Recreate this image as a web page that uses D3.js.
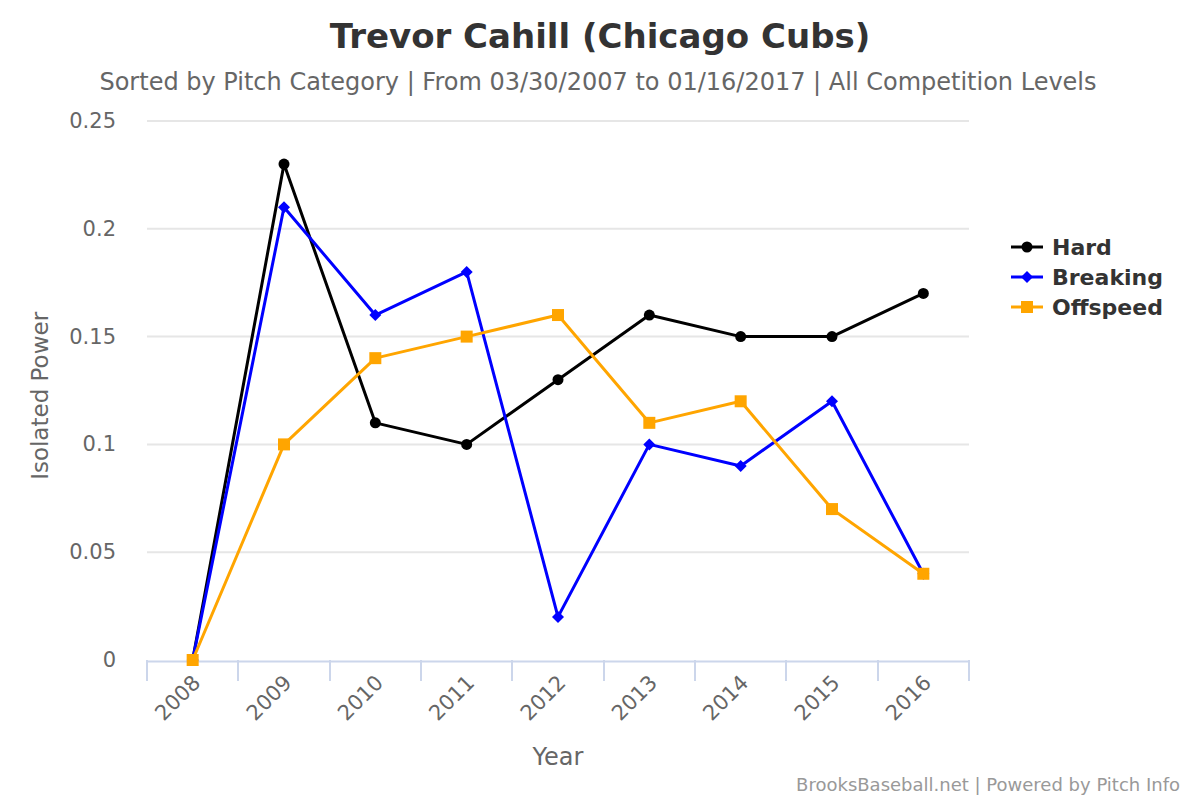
<!DOCTYPE html>
<html>
<head>
<meta charset="utf-8">
<script src="https://cdnjs.cloudflare.com/ajax/libs/d3/7.8.5/d3.min.js"></script>
<style>
  body { margin: 0; background: #fff; }
  text { font-family: "DejaVu Sans", sans-serif; }
</style>
</head>
<body>
<div id="chart"></div>
<script>
const years = ["2008", "2009", "2010", "2011", "2012", "2013", "2014", "2015", "2016"];
const hard = [0, 0.23, 0.11, 0.10, 0.13, 0.16, 0.15, 0.15, 0.17];
const breaking = [0, 0.21, 0.16, 0.18, 0.02, 0.10, 0.09, 0.12, 0.04];
const offspeed = [0, 0.10, 0.14, 0.15, 0.16, 0.11, 0.12, 0.07, 0.04];
const yTicks = [0, 0.05, 0.1, 0.15, 0.2, 0.25];

let width = 1200,
    height = 800;
let margin = {left: 147, right: 231, top: 121, bottom: 140};

let svg = d3.select("div#chart").append("svg")
  .attr("width", width)
  .attr("height", height);

var x = d3.scaleBand().domain(years).range([margin.left, width - margin.right]);
var y = d3.scaleLinear().domain([0, 0.25]).range([height - margin.bottom, margin.top]);

// gridlines
svg.append("g").selectAll("line")
  .data(yTicks.slice(1))
  .enter().append("line")
  .attr("x1", margin.left)
  .attr("x2", width - margin.right)
  .attr("y1", d => y(d))
  .attr("y2", d => y(d))
  .attr("stroke", "#e6e6e6")
  .attr("stroke-width", 2);

// y labels
svg.append("g").selectAll("text")
  .data(yTicks)
  .enter().append("text")
  .attr("x", 116)
  .attr("y", d => y(d) + 7)
  .attr("text-anchor", "end")
  .style("font-size", "21px")
  .style("fill", "#666")
  .text(d => d);

// x axis
let xAxis = d3.axisBottom(x).tickSize(0).tickFormat("");
svg.append("g")
  .attr("transform", "translate(0," + (height - margin.bottom + 1) + ")")
  .call(xAxis)
  .call(g => g.select(".domain").attr("stroke", "#ccd6eb").attr("stroke-width", 2));

// category boundary ticks
let bounds = years.map(d => x(d)).concat([x(years[years.length - 1]) + x.bandwidth()]);
svg.append("g").selectAll("line")
  .data(bounds)
  .enter().append("line")
  .attr("x1", d => Math.round(d))
  .attr("x2", d => Math.round(d))
  .attr("y1", height - margin.bottom)
  .attr("y2", height - margin.bottom + 21)
  .attr("stroke", "#ccd6eb")
  .attr("stroke-width", 2);

svg.append("g").selectAll("text")
  .data(years)
  .enter().append("text")
  .attr("transform", d => "translate(" + (x(d) + x.bandwidth() / 2 + 9) + "," + (height - margin.bottom + 24) + ") rotate(-45)")
  .attr("text-anchor", "end")
  .style("font-size", "21px")
  .style("fill", "#666")
  .text(d => d);

// titles
svg.append("text")
  .attr("x", 600).attr("y", 48)
  .attr("text-anchor", "middle")
  .style("font-size", "34px").style("font-weight", "bold").style("fill", "#333")
  .text("Trevor Cahill (Chicago Cubs)");
svg.append("text")
  .attr("x", 598).attr("y", 90)
  .attr("text-anchor", "middle")
  .style("font-size", "24px").style("fill", "#666")
  .text("Sorted by Pitch Category | From 03/30/2007 to 01/16/2017 | All Competition Levels");
svg.append("text")
  .attr("transform", "translate(48," + y(0.1225) + ") rotate(-90)")
  .attr("text-anchor", "middle")
  .style("font-size", "23px").style("fill", "#666")
  .text("Isolated Power");
svg.append("text")
  .attr("x", 558).attr("y", 765)
  .attr("text-anchor", "middle")
  .style("font-size", "24px").style("fill", "#666")
  .text("Year");
svg.append("text")
  .attr("x", 1180).attr("y", 791)
  .attr("text-anchor", "end")
  .style("font-size", "18px").style("fill", "#999")
  .text("BrooksBaseball.net | Powered by Pitch Info");

// series
let series = [
  {name: "Hard", values: hard, color: "#000000", marker: "circle"},
  {name: "Breaking", values: breaking, color: "#0000ff", marker: "diamond"},
  {name: "Offspeed", values: offspeed, color: "#ffa500", marker: "square"}
];

function drawMarker(g, type, cx, cy, color) {
  if (type === "circle") {
    g.append("circle").attr("cx", cx).attr("cy", cy).attr("r", 5.5).attr("fill", color);
  } else if (type === "diamond") {
    g.append("path")
      .attr("d", "M" + cx + "," + (cy - 6) + "L" + (cx + 6) + "," + cy + "L" + cx + "," + (cy + 6) + "L" + (cx - 6) + "," + cy + "Z")
      .attr("fill", color);
  } else {
    g.append("rect").attr("x", cx - 6).attr("y", cy - 6).attr("width", 12).attr("height", 12).attr("fill", color);
  }
}

var line = d3.line()
  .x((d, i) => x(years[i]) + x.bandwidth() / 2)
  .y(d => y(d));

series.forEach(s => {
  svg.append("path")
    .datum(s.values)
    .attr("d", line)
    .attr("fill", "none")
    .attr("stroke", s.color)
    .attr("stroke-width", 3)
    .attr("stroke-linejoin", "round");
});
series.forEach(s => {
  let g = svg.append("g");
  s.values.forEach((v, i) => {
    drawMarker(g, s.marker, x(years[i]) + x.bandwidth() / 2, y(v), s.color);
  });
});

// legend
series.forEach((s, i) => {
  let ly = 247 + i * 30;
  let g = svg.append("g");
  g.append("line")
    .attr("x1", 1011).attr("x2", 1043)
    .attr("y1", ly).attr("y2", ly)
    .attr("stroke", s.color).attr("stroke-width", 3);
  drawMarker(g, s.marker, 1027, ly, s.color);
  g.append("text")
    .attr("x", 1052).attr("y", ly + 8)
    .style("font-size", "22px").style("font-weight", "bold").style("fill", "#333")
    .text(s.name);
});
</script>
</body>
</html>
